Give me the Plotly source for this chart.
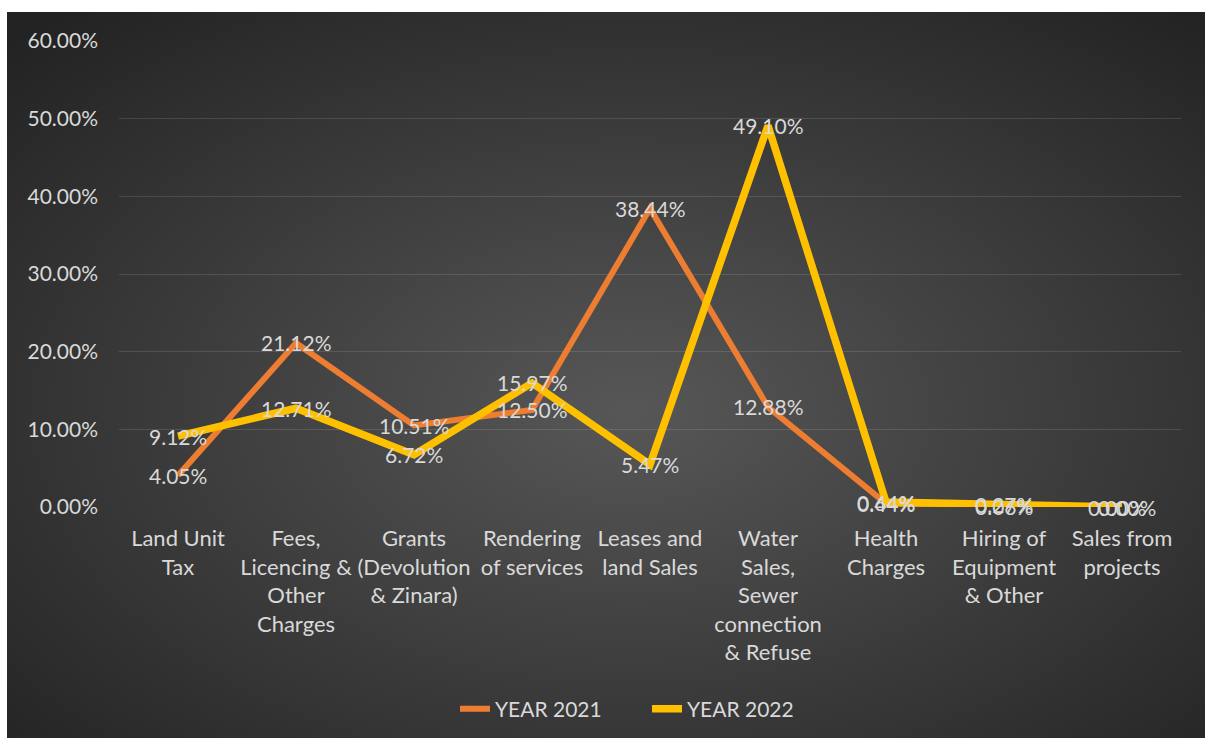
import base64
import plotly.graph_objects as go

# Revenue share by source, two financial years
categories = [
    "Land Unit<br>Tax",
    "Fees,<br>Licencing &<br>Other<br>Charges",
    "Grants<br>(Devolution<br>& Zinara)",
    "Rendering<br>of services",
    "Leases and<br>land Sales",
    "Water<br>Sales,<br>Sewer<br>connection<br>& Refuse",
    "Health<br>Charges",
    "Hiring of<br>Equipment<br>& Other",
    "Sales from<br>projects",
]
year_2021 = [4.05, 21.12, 10.51, 12.50, 38.44, 12.88, 0.44, 0.06, 0.00]
year_2022 = [9.12, 12.71, 6.72, 15.97, 5.47, 49.10, 0.64, 0.27, 0.00]
y_ticks = [0, 10, 20, 30, 40, 50, 60]

FONT = "Lato"
TEXT_COLOR = "#d9d9d9"
ORANGE = "#ED7D31"
GOLD = "#FFC000"

# Pixel layout of the figure
W, H = 1205, 738
L, R, T, B = 119, 24, 41, 231
pw, ph = W - L - R, H - T - B

# Dark radial-gradient panel behind the chart (x 7..1205, y 12..738)
px0, py0, px1, py1 = 7, 12, 1205, 738
svg = (
    '<svg xmlns="http://www.w3.org/2000/svg" width="1198" height="726" '
    'viewBox="0 0 1198 726" preserveAspectRatio="none"><defs>'
    '<radialGradient id="g" cx="52%" cy="55%" r="72%">'
    '<stop offset="0" stop-color="#575757"/>'
    '<stop offset="1" stop-color="#232323"/>'
    '</radialGradient></defs>'
    '<rect width="1198" height="726" fill="url(#g)"/></svg>'
)
bg_src = "data:image/svg+xml;base64," + base64.b64encode(svg.encode()).decode()

fig = go.Figure()
fig.add_trace(go.Scatter(
    x=categories, y=year_2021, mode="lines", name="YEAR 2021",
    line=dict(color=ORANGE, width=6), hoverinfo="skip",
))
fig.add_trace(go.Scatter(
    x=categories, y=year_2022, mode="lines", name="YEAR 2022",
    line=dict(color=GOLD, width=7.5), hoverinfo="skip",
))

# Data labels centred on each point, drawn above both lines
annotations = []
last = len(categories) - 1
for series, shift in ((year_2021, -5), (year_2022, 5)):
    for i, (cat, val) in enumerate(zip(categories, series)):
        annotations.append(dict(
            x=cat, y=val, xref="x", yref="y", text=f"{val:.2f}%",
            showarrow=False, yshift=0, xshift=shift if i == last else 0,
            font=dict(family=FONT, size=21, color=TEXT_COLOR),
        ))

fig.update_layout(
    width=W, height=H,
    margin=dict(l=L, r=R, t=T, b=B, autoexpand=False),
    paper_bgcolor="white",
    plot_bgcolor="rgba(0,0,0,0)",
    font=dict(family=FONT, size=21, color=TEXT_COLOR),
    showlegend=True,
    legend=dict(
        orientation="h", x=(647 - L) / pw, xanchor="center",
        y=(T + ph - 709) / ph, yanchor="middle",
        font=dict(family=FONT, size=21, color=TEXT_COLOR),
        bgcolor="rgba(0,0,0,0)", entrywidth=147, entrywidthmode="pixels",
    ),
    xaxis=dict(
        range=[-0.5, len(categories) - 0.5], automargin=False,
        showgrid=False, zeroline=False, showline=False, ticks="",
        tickfont=dict(family=FONT, size=22, color=TEXT_COLOR),
        ticklabelstandoff=16, fixedrange=True,
    ),
    yaxis=dict(
        range=[0, 60], tickvals=y_ticks, automargin=False,
        ticktext=[f"{v:.2f}%" for v in y_ticks],
        showgrid=True, gridcolor="rgba(255,255,255,0.12)", gridwidth=1,
        zeroline=False, showline=False, ticks="",
        tickfont=dict(family=FONT, size=21, color=TEXT_COLOR),
        ticklabelstandoff=20, fixedrange=True,
    ),
    annotations=annotations,
    images=[dict(
        source=bg_src, xref="paper", yref="paper",
        x=(px0 - L) / pw, y=(T + ph - py0) / ph,
        sizex=(px1 - px0) / pw, sizey=(py1 - py0) / ph,
        xanchor="left", yanchor="top", sizing="stretch", layer="below",
    )],
)

fig.write_html("out.html", config={"displayModeBar": False})
